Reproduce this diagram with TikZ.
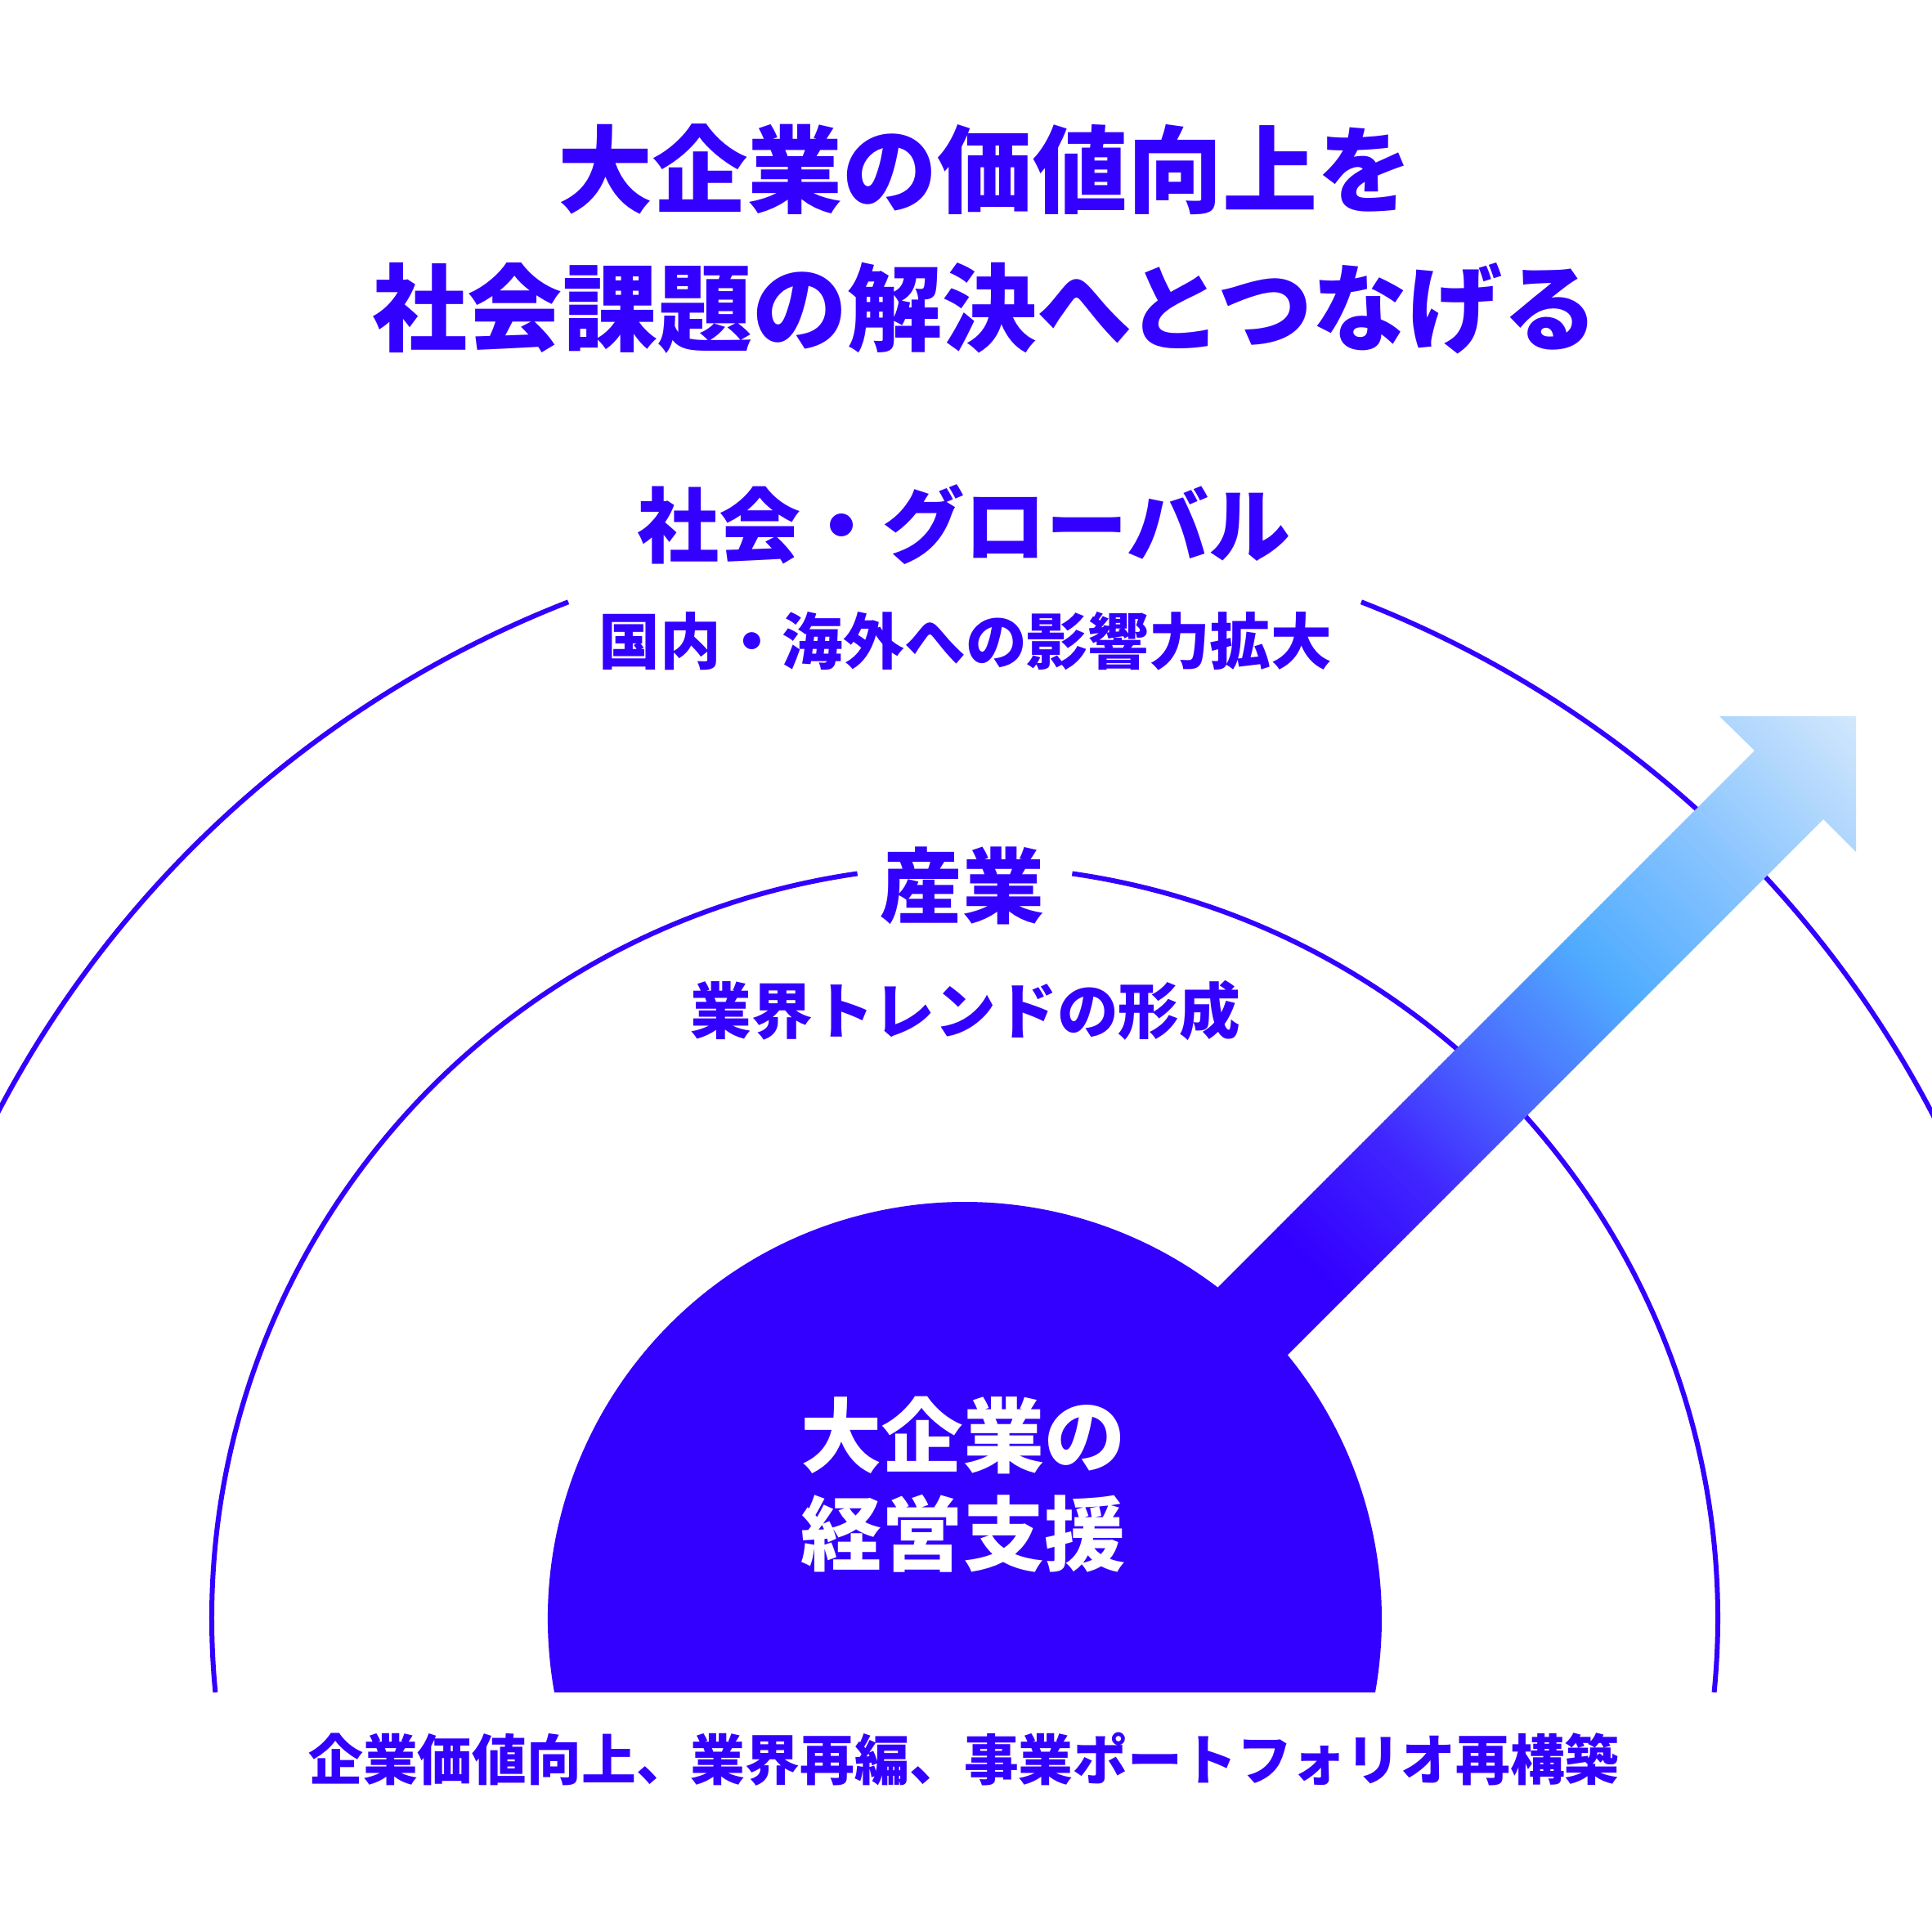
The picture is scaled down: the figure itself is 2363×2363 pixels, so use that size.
\documentclass[tikz,border=0pt]{standalone}
\usepackage{fontspec}
\setmainfont{Noto Sans CJK JP}
\definecolor{brand}{HTML}{3300FF}
\definecolor{gA}{HTML}{4026FF}
\definecolor{gB}{HTML}{4A6AFF}
\definecolor{gC}{HTML}{50ACFF}
\definecolor{gD}{HTML}{88C4FF}
\definecolor{gE}{HTML}{D4E8FC}
\newcommand\gradseg[5]{%
  \foreach \gi in {1,...,#5}{%
    \pgfmathsetmacro\gsa{#1+(#2-#1)*(\gi-1)/#5}%
    \pgfmathsetmacro\gsb{#1+(#2-#1)*\gi/#5+1.5}%
    \pgfmathsetmacro\gpc{100*(1-(\gi-0.5)/#5)}%
    \fill[#3!\gpc!#4] ({(\gsa+2900)/2},{(2900-\gsa)/2}) -- ({(\gsb+2900)/2},{(2900-\gsb)/2}) -- ({(\gsb+3400)/2},{(3400-\gsb)/2}) -- ({(\gsa+3400)/2},{(3400-\gsa)/2}) -- cycle;
  }%
}
\begin{document}
\begin{tikzpicture}[x=0.01cm,y=-0.01cm,
  ring/.style={draw=brand, line width=0.06cm},
  titletext/.style={text=brand, font=\bfseries\fontsize{33}{40}\selectfont, inner sep=0pt},
  headtext/.style={text=brand, font=\bfseries\fontsize{28.45}{34}\selectfont, inner sep=0pt},
  subtext/.style={text=brand, font=\bfseries\fontsize{21.25}{26}\selectfont, inner sep=0pt},
  coretext/.style={text=white, font=\bfseries\fontsize{28.2}{34}\selectfont, inner sep=0pt},
  foottext/.style={text=brand, font=\bfseries\fontsize{19}{23}\selectfont, inner sep=0pt}]
\useasboundingbox (0,0) rectangle (2363,2363);
\fill[white] (0,0) rectangle (2363,2363);
\clip (0,0) rectangle (2363,2363);
\coordinate (C) at (1180,1980);
% rings
\draw[ring] (C) ++(174.4:921) arc[start angle=174.4, end angle=261.8, radius=921];
\draw[ring] (C) ++(278.2:921) arc[start angle=278.2, end angle=365.6, radius=921];
\draw[ring] (C) ++(200:1335) arc[start angle=200, end angle=248.7, radius=1335];
\draw[ring] (C) ++(291.3:1335) arc[start angle=291.3, end angle=340, radius=1335];
% arrow with gradient
\begin{scope}
\clip (1282,1782) -- (2146,918) -- (2103,876) -- (2270,876) -- (2270,1042) -- (2230,1002) -- (1366,1866) -- cycle;
\gradseg{-600}{60}{brand}{brand}{1}
\gradseg{60}{300}{brand}{gA}{30}
\gradseg{300}{520}{gA}{gB}{30}
\gradseg{520}{770}{gB}{gC}{32}
\gradseg{770}{1050}{gC}{gD}{35}
\gradseg{1050}{1400}{gD}{gE}{44}
\end{scope}
% core half disc
\fill[brand] (C) ++(169.84:510) arc[start angle=169.84, end angle=370.16, radius=510] -- cycle;
% texts
\node[titletext] (t1) at (1205,207) {大企業の価値向上を};
\node[titletext] (t2) at (1205,377) {社会課題の解決へとつなげる};
\node[headtext] (h1) at (1179,642) {社会・グローバル};
\node[subtext] (s1) at (1181,784) {国内・海外への影響力拡大};
\node[headtext] (h2) at (1177,1083) {産業};
\node[subtext] (s2) at (1181,1236) {業界トレンドの形成};
\node[coretext] (c1) at (1178,1755) {大企業の};
\node[coretext] (c2) at (1178,1876) {経営支援};
\node[foottext] (f1) at (1179,2152) {企業価値向上、業界再編、事業ポートフォリオ再構築};
\end{tikzpicture}
\end{document}
